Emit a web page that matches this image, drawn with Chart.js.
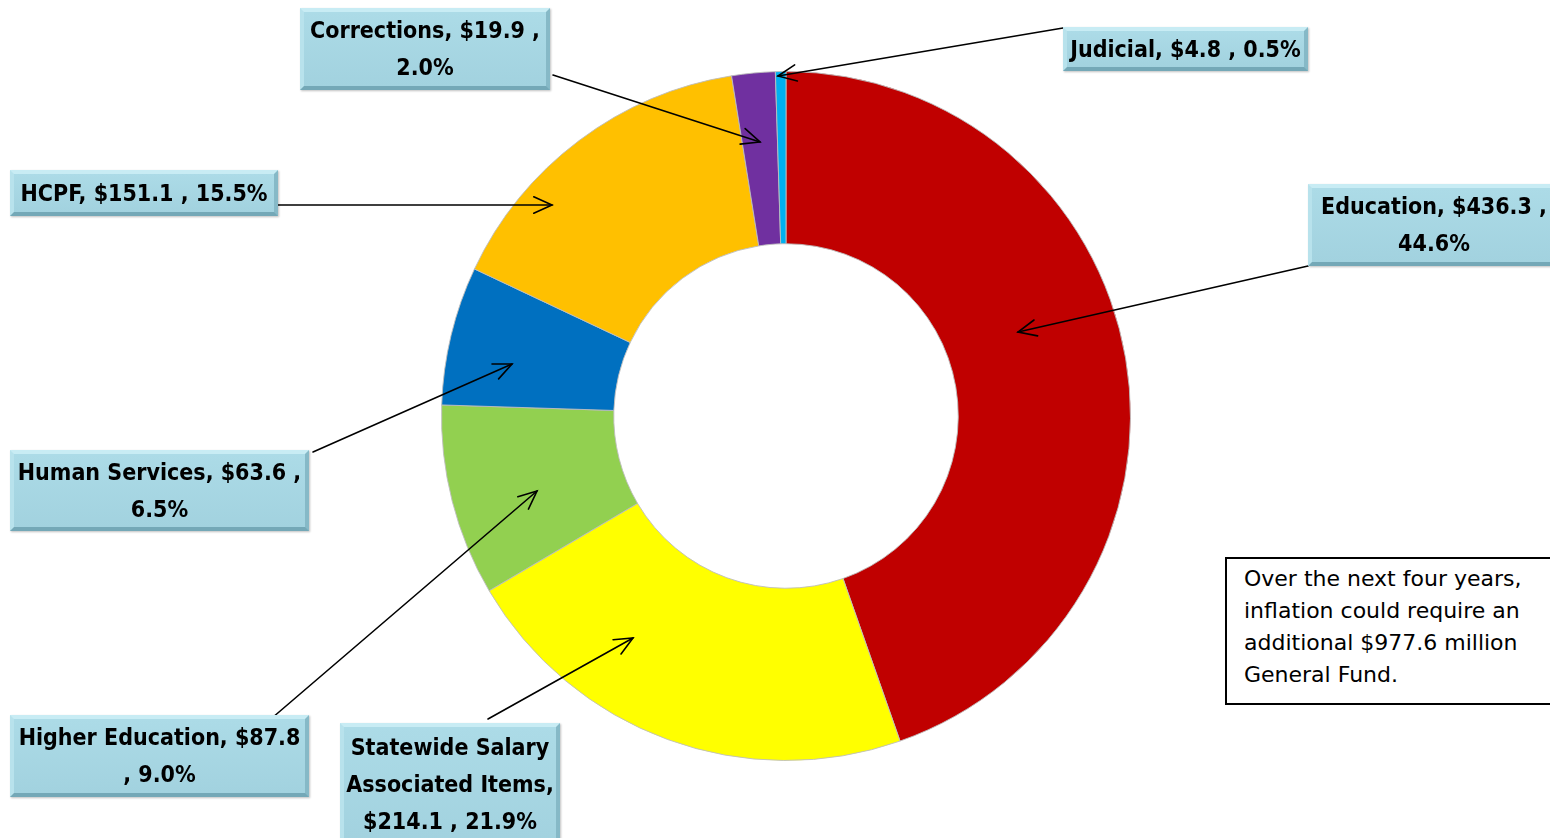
<!DOCTYPE html>
<html>
<head>
<meta charset="utf-8">
<script src="https://cdn.jsdelivr.net/npm/chart.js@4.4.1/dist/chart.umd.min.js"></script>
<style>
  html, body { margin: 0; padding: 0; background: #fff; overflow: hidden; }
  #wrap { position: relative; width: 1550px; height: 838px; overflow: hidden; }
  #c { position: absolute; left: 0; top: 0; }
  .lbl {
    position: absolute; box-sizing: border-box;
    font-family: "DejaVu Sans Condensed", "DejaVu Sans", sans-serif; font-weight: bold;
    font-size: 23px; line-height: 37px; color: #000; text-align: center;
    display: flex; align-items: center; justify-content: center;
    padding: 0;
    background: linear-gradient(#acdbe7, #a2d2df);
    border-style: solid; border-width: 4px;
    border-color: #c8ecf4 #86b9c7 #74a8b7 #b8e2ec;
    box-shadow: 1px 1px 2px rgba(0,0,0,0.25);
  }
  .lbl span { display: block; }
  #note {
    position: absolute; left: 1225px; top: 557px; width: 380px; height: 148px;
    box-sizing: border-box; border: 2px solid #000; background: #fff;
    font-family: "DejaVu Sans", sans-serif; font-size: 22px; line-height: 32px;
    padding: 4px 0 0 17px; white-space: nowrap; color: #000;
  }
</style>
</head>
<body>
<div id="wrap">
  <canvas id="c" width="1550" height="838"></canvas>
  <div id="note"></div>
</div>
<script>
// ---- data ----
const categories = ["Education", "Statewide Salary Associated Items", "Higher Education", "Human Services", "HCPF", "Corrections", "Judicial"];
const values = [436.3, 214.1, 87.8, 63.6, 151.1, 19.9, 4.8];
const percents = [44.6, 21.9, 9.0, 6.5, 15.5, 2.0, 0.5];
const colors = ["#c00000", "#ffff00", "#92d050", "#0070c0", "#ffc000", "#7030a0", "#00b0f0"];
const noteLines = ["Over the next four years,", "inflation could require an", "additional $TOTAL million", "General Fund."];

// ---- callout layout (box rect, arrow start -> arrow tip) ----
const callouts = [
  { box: [1308, 184, 252, 82], from: [1308, 266], to: [1018, 332] },
  { box: [340, 723, 220, 122], from: [488, 719], to: [633, 638] },
  { box: [10, 715, 299, 82], from: [272, 718], to: [537, 491] },
  { box: [10, 450, 299, 81], from: [313, 452], to: [512, 364] },
  { box: [10, 170, 268, 46], from: [278, 205], to: [552, 205] },
  { box: [300, 8, 250, 82], from: [553, 75], to: [760, 142] },
  { box: [1063, 27, 245, 44], from: [1063, 28], to: [778, 76] }
];

const wrap = document.getElementById('wrap');
categories.forEach((cat, i) => {
  const d = document.createElement('div');
  d.className = 'lbl';
  const [x, y, w, h] = callouts[i].box;
  d.style.left = x + 'px'; d.style.top = y + 'px';
  d.style.width = w + 'px'; d.style.height = h + 'px';
  const s = document.createElement('span');
  s.textContent = `${cat}, $${values[i].toFixed(1)} , ${percents[i].toFixed(1)}%`;
  d.appendChild(s);
  wrap.appendChild(d);
});

const total = values.reduce((a, b) => a + b, 0).toFixed(1);
const note = document.getElementById('note');
noteLines.forEach(l => {
  const div = document.createElement('div');
  div.textContent = l.replace('TOTAL', total);
  note.appendChild(div);
});

const arrowPlugin = {
  id: 'arrows',
  afterDraw(chart) {
    const ctx = chart.ctx;
    ctx.save();
    ctx.strokeStyle = '#000';
    ctx.lineWidth = 1.6;
    ctx.lineCap = 'round';
    callouts.forEach(c => {
      const [x1, y1] = c.from, [x2, y2] = c.to;
      ctx.beginPath(); ctx.moveTo(x1, y1); ctx.lineTo(x2, y2); ctx.stroke();
      const ang = Math.atan2(y2 - y1, x2 - x1);
      const L = 20, a = 0.42;
      ctx.beginPath();
      ctx.moveTo(x2 - L * Math.cos(ang - a), y2 - L * Math.sin(ang - a));
      ctx.lineTo(x2, y2);
      ctx.lineTo(x2 - L * Math.cos(ang + a), y2 - L * Math.sin(ang + a));
      ctx.stroke();
    });
    ctx.restore();
  }
};

new Chart(document.getElementById('c'), {
  type: 'doughnut',
  data: {
    labels: categories,
    datasets: [{
      data: values,
      backgroundColor: colors,
      borderColor: 'rgba(190,190,190,0.9)',
      borderWidth: 1
    }]
  },
  options: {
    responsive: false,
    animation: false,
    cutout: '50%',
    layout: { padding: { top: 71, bottom: 77, left: 22, right: 0 } },
    plugins: { legend: { display: false }, tooltip: { enabled: false } },
    events: []
  },
  plugins: [arrowPlugin]
});
</script>
</body>
</html>
